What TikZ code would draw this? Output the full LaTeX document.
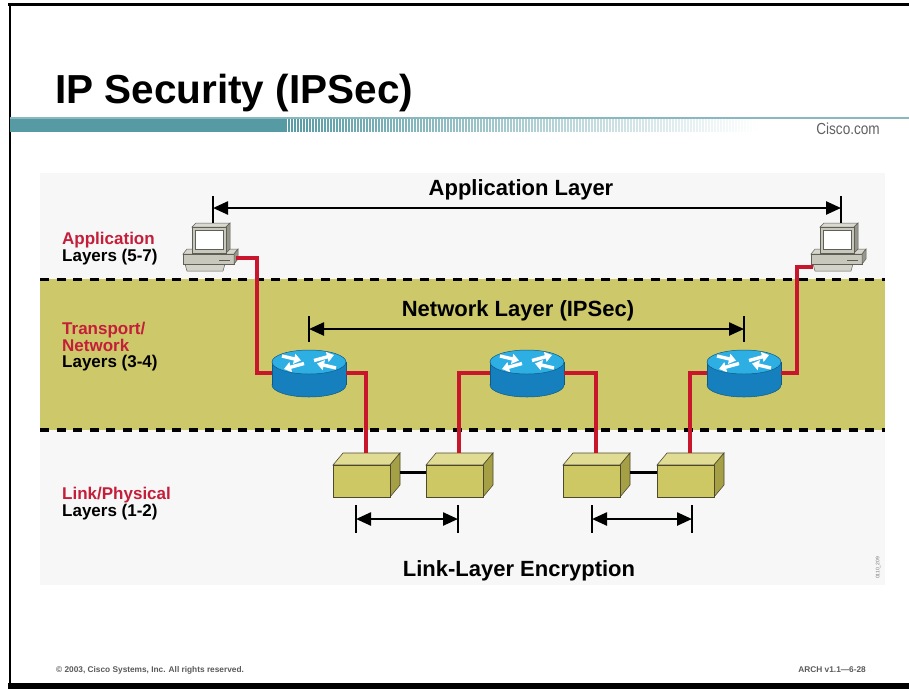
\documentclass[tikz,border=0pt]{standalone}
\usepackage{fontspec}
\setmainfont{Liberation Sans}
\newfontfamily\narrowfont[FakeStretch=0.85]{Liberation Sans}
\usetikzlibrary{arrows.meta}

\definecolor{bandolive}{RGB}{205,201,106}
\definecolor{paneg}{RGB}{247,247,247}
\definecolor{linkred}{RGB}{200,22,45}
\definecolor{labelred}{RGB}{196,30,58}
\definecolor{headteal}{RGB}{86,155,164}
\definecolor{rtop}{RGB}{45,175,228}
\definecolor{rside}{RGB}{22,128,190}
\definecolor{boxfront}{RGB}{205,200,100}
\definecolor{boxtop}{RGB}{224,220,148}
\definecolor{boxside}{RGB}{165,160,70}
\definecolor{pcbody}{RGB}{200,200,188}
\definecolor{pcdark}{RGB}{150,150,138}
\definecolor{pcedge}{RGB}{95,95,88}

\tikzset{
  % router: blue cylinder, origin at the centre of the top face
  pics/router/.style={code={
    \filldraw[fill=rside,draw=rside!70!black,line width=.5pt] (0,23) ellipse[x radius=37pt,y radius=12pt];
    \fill[rside] (-37,0) rectangle (37,23);
    \draw[rside!70!black,line width=.5pt] (-37,0) -- (-37,23) (37,0) -- (37,23);
    \filldraw[fill=rtop,draw=rside!70!black,line width=.5pt] (0,0) ellipse[x radius=37pt,y radius=12pt];
    \begin{scope}[white,line width=3.4pt,-{Triangle[length=7pt,width=10pt]}]
      \draw (-27,-6) -- (-8,-1.5);
      \draw (27,6) -- (8,1.5);
      \draw (5,-1.5) -- (25,-7);
      \draw (-5,1.5) -- (-25,7);
    \end{scope}
    \coordinate (-n) at (0,-12);
    \coordinate (-w) at (-37,11);
    \coordinate (-e) at (37,11);
  }},
  % link box: olive cube, origin at the centre of the front face
  pics/cube/.style={code={
    \begin{scope}[draw=black!60!olive,line width=.6pt]
      \filldraw[fill=boxtop] (-28,-16) -- (-18,-28) -- (39,-28) -- (29,-16) -- cycle;
      \filldraw[fill=boxside] (29,-16) -- (39,-28) -- (39,4) -- (29,16) -- cycle;
      \filldraw[fill=boxfront] (-28,-16) rectangle (29,16);
    \end{scope}
    \coordinate (-n) at (5,-28);
    \coordinate (-w) at (-28,-9);
    \coordinate (-e) at (39,-9);
  }},
  % workstation, origin at the top of the monitor
  pics/pc/.style={code={
    \begin{scope}[draw=pcedge,line width=.5pt]
      \filldraw[fill=pcbody!80] (-28,41) -- (12,41) -- (10,48) -- (-26,48) -- cycle;
      \filldraw[fill=pcbody!75!white] (-26,26) -- (25,26) -- (21,31) -- (-30,31) -- cycle;
      \filldraw[fill=pcbody] (-30,31) rectangle (21,41);
      \filldraw[fill=pcdark] (21,31) -- (25,26) -- (25,36) -- (21,41) -- cycle;
      \draw[line width=1pt] (6,37) -- (17,37);
      \filldraw[fill=pcbody!70!white] (-21,4) -- (-17,0) -- (17,0) -- (13,4) -- cycle;
      \filldraw[fill=pcdark] (13,4) -- (17,0) -- (17,26) -- (13,30) -- cycle;
      \filldraw[fill=pcbody] (-21,4) rectangle (13,30);
      \filldraw[fill=white] (-18,7) rectangle (10,26);
    \end{scope}
    \coordinate (-n) at (0,0);
    \coordinate (-e) at (23,35);
    \coordinate (-w) at (-28,44);
  }}
}

\begin{document}
\begin{tikzpicture}[x=1pt,y=-1pt,
  link/.style={draw=linkred,line width=3.2pt},
  span/.style={line width=2.4pt,{Triangle[length=15pt,width=13pt]}-{Triangle[length=15pt,width=13pt]}},
  tick/.style={line width=1.5pt},
  layername/.style={font=\bfseries\fontsize{22}{24}\selectfont},
  sidelabel/.style={anchor=north west,inner sep=0pt,align=left,font=\bfseries\fontsize{17}{16.5}\selectfont},
  divider/.style={line width=3.5pt,dash pattern=on 9pt off 7.5pt},
  footer/.style={font=\bfseries\fontsize{8.3}{10}\selectfont,text=black!65,inner sep=0pt}]
\useasboundingbox (0,0) rectangle (909,689);

% slide frame
\fill (8,3) rectangle (909,6);
\fill (8,683) rectangle (909,689);
\draw[line width=2.5pt] (10.2,3) -- (10.2,689);

% title and header bar
\node[anchor=base west,inner sep=0pt,font=\bfseries\fontsize{40.5}{44}\selectfont] (title) at (55,103) {IP Security (IPSec)};
\draw[headteal!70,line width=1.2pt] (10,118) -- (909,118);
\fill[headteal] (10,119) rectangle (285,132);
\foreach \i in {0,...,157} {
  \pgfmathsetmacro\op{1-\i/158}
  \draw[headteal,opacity=\op,line width=1.4pt] ({286+3*\i},119) -- ++(0,13);
}
\node[anchor=base east,inner sep=0pt,text=black!62,font=\narrowfont\fontsize{16}{18}\selectfont] (site) at (880,134) {Cisco.com};

% diagram panel
\fill[paneg] (40,173) rectangle (885,585);
\fill[bandolive] (40,279) rectangle (885,430);
\draw[divider] (40,279.5) -- (885,279.5);
\draw[divider] (40,430) -- (885,430);

% layer labels
\node[sidelabel] (appl) at (62,232) {\textcolor{labelred}{Application}\\Layers (5-7)};
\node[sidelabel] (tnl) at (62,322) {\textcolor{labelred}{Transport/}\\\textcolor{labelred}{Network}\\Layers (3-4)};
\node[sidelabel] (lpl) at (62,487) {\textcolor{labelred}{Link/Physical}\\Layers (1-2)};

% devices
\pic (pc1) at (213,223) {pc};
\pic (pc2) at (841,223) {pc};
\pic (r1) at (309,362) {router};
\pic (r2) at (527,362) {router};
\pic (r3) at (744,362) {router};
\pic (b1) at (361,481) {cube};
\pic (b2) at (454,481) {cube};
\pic (b3) at (591,481) {cube};
\pic (b4) at (685,481) {cube};

% cabling
\draw[link] (pc1-e) -- ++(21,0) |- (r1-w);
\draw[link] (r1-e) -| (b1-n);
\draw[link] (b2-n) |- (r2-w);
\draw[link] (r2-e) -| (b3-n);
\draw[link] (b4-n) |- (r3-w);
\draw[link] (r3-e) -- ++(16,0) |- (pc2-w);
\draw[line width=3pt] (b1-e) -- (b2-w);
\draw[line width=3pt] (b3-e) -- (b4-w);

% end-to-end spans
\coordinate (appL) at (213,208);
\coordinate (appR) at (841,208);
\draw[tick] (pc1-n) -- ++(0,-27);
\draw[tick] (pc2-n) -- ++(0,-27);
\draw[span] (appL) -- (appR);
\node[layername] (appname) at (521,190) {Application Layer};

\coordinate (netL) at (309,329);
\coordinate (netR) at (744,329);
\draw[tick] (netL) ++(0,-13) -- ++(0,26);
\draw[tick] (netR) ++(0,-13) -- ++(0,26);
\draw[span] (netL) -- (netR);
\node[layername] (netname) at (518,311) {Network Layer (IPSec)};

\coordinate (lnkAL) at (356,519);
\coordinate (lnkAR) at (458,519);
\coordinate (lnkBL) at (592,519);
\coordinate (lnkBR) at (692,519);
\foreach \c in {lnkAL,lnkAR,lnkBL,lnkBR}
  \draw[tick] (\c) ++(0,-14) -- ++(0,28);
\draw[span] (lnkAL) -- (lnkAR);
\draw[span] (lnkBL) -- (lnkBR);
\node[layername] (lnkname) at (519,571) {Link-Layer Encryption};

\node[rotate=90,font=\fontsize{5}{6}\selectfont,text=black!55] (figid) at (878,568) {0110\_209};

% footer
\node[footer,anchor=base west] (copy) at (56,672) {© 2003, Cisco Systems, Inc. All rights reserved.};
\node[footer,anchor=base east] (course) at (866,672) {ARCH v1.1—6-28};
\end{tikzpicture}
\end{document}
